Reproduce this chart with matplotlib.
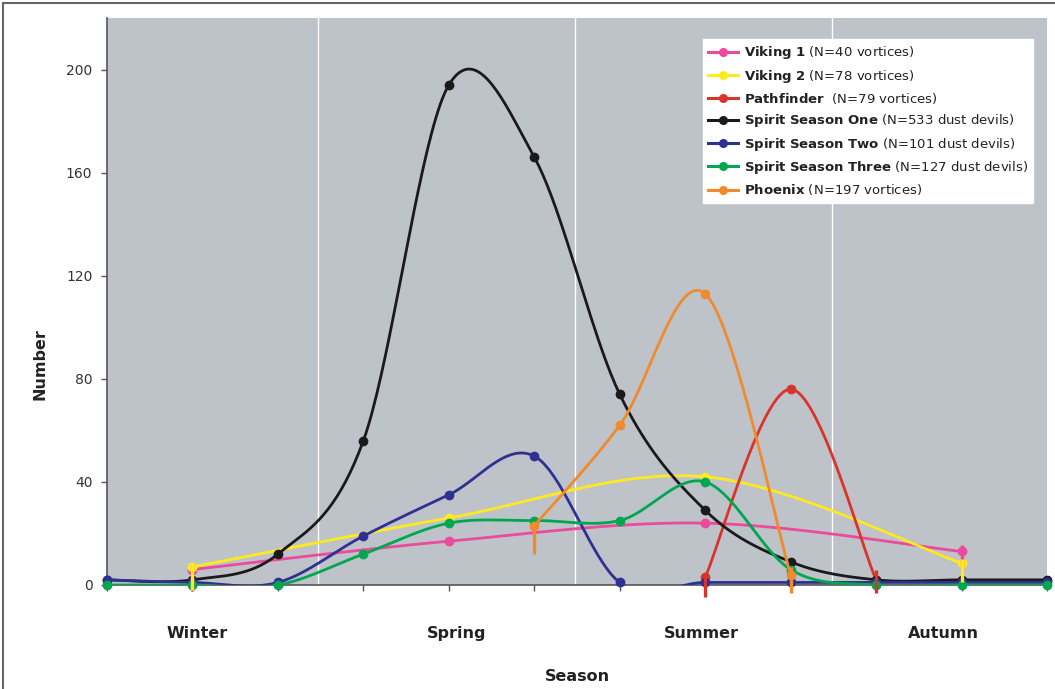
import numpy as np
import matplotlib
matplotlib.use("Agg")
import matplotlib.pyplot as plt
from matplotlib.lines import Line2D
from matplotlib.patches import Rectangle

plt.rcParams["font.family"] = ["DejaVu Sans"]
plt.rcParams["mathtext.fontset"] = "dejavusans"

# ---- data -------------------------------------------------------------
# twelve sampling slots spread across the Martian year
slots = np.arange(12)
sparse_slots = np.array([1, 4, 7, 10])

seasons = ["Winter", "Spring", "Summer", "Autumn"]
season_label_x = [1.05, 4.09, 6.96, 9.79]
season_bounds = [2.47, 5.48, 8.48]

viking1 = [6, 17, 24, 13]
viking2 = [7, 26, 42, 8.5]

pathfinder_x = [7, 8, 9]
pathfinder = [3, 76, 2]

spirit1 = [2, 2, 12, 56, 194, 166, 74, 29, 9, 2, 2, 2]
spirit2 = [2, 1, 1, 19, 35, 50, 1, 1, 1, 1, 1, 1]
spirit3 = [0, 0, 0, 12, 24, 25, 25, 40, 6, 0, 0, 0]

phoenix_x = [5, 6, 7, 8]
phoenix = [23, 62, 113, 4]

# vertical end strokes (low, high) at the first and last point of sparse series
viking1_ends = [(-2.3, 8), (5, 15.5)]
viking2_ends = [(-2, 8.5), (1, 10)]
pathfinder_ends = [(-4.5, 4.5), (-3, 6)]
phoenix_ends = [(12, 23), (-3, 7)]

labels = [
    r"$\mathbf{Viking\ 1}$ (N=40 vortices)",
    r"$\mathbf{Viking\ 2}$ (N=78 vortices)",
    r"$\mathbf{Pathfinder}$  (N=79 vortices)",
    r"$\mathbf{Spirit\ Season\ One}$ (N=533 dust devils)",
    r"$\mathbf{Spirit\ Season\ Two}$ (N=101 dust devils)",
    r"$\mathbf{Spirit\ Season\ Three}$ (N=127 dust devils)",
    r"$\mathbf{Phoenix}$ (N=197 vortices)",
]
colors = ["#EC4A9C", "#FFE91F", "#D9342B", "#1A1A1A", "#2E3192", "#00A650", "#F08A2C"]


def smooth(x, y, n=40):
    """Bezier smoothing through every point (Catmull-Rom style)."""
    p = np.column_stack([np.asarray(x, float), np.asarray(y, float)])
    ext = np.vstack([p[0], p, p[-1]])
    out = []
    t = np.linspace(0, 1, n)[:, None]
    for i in range(len(p) - 1):
        p0, p1, p2, p3 = ext[i], ext[i + 1], ext[i + 2], ext[i + 3]
        c1 = p1 + (p2 - p0) / 6.0
        c2 = p2 - (p3 - p1) / 6.0
        seg = ((1 - t) ** 3) * p1 + 3 * ((1 - t) ** 2) * t * c1 + 3 * (1 - t) * t ** 2 * c2 + t ** 3 * p2
        out.append(seg if i == 0 else seg[1:])
    s = np.vstack(out)
    return s[:, 0], s[:, 1]


fig = plt.figure(figsize=(10.55, 6.89), dpi=100)
fig.patch.set_facecolor("white")
ax = fig.add_axes([107 / 1055, 1 - 585 / 689, 940 / 1055, 567 / 689])
ax.set_facecolor("#BEC3C9")
ax.set_xlim(0, 11)
ax.set_ylim(0, 220)

for b in season_bounds:
    ax.axvline(b, color="white", lw=1.0, zorder=1)

series = [
    (sparse_slots, viking1, viking1_ends),
    (sparse_slots, viking2, viking2_ends),
    (pathfinder_x, pathfinder, pathfinder_ends),
    (slots, spirit1, None),
    (slots, spirit2, None),
    (slots, spirit3, None),
    (phoenix_x, phoenix, phoenix_ends),
]

for k, ((x, y, ends), c) in enumerate(zip(series, colors)):
    z = 3 + k
    sx, sy = smooth(x, y)
    ax.plot(sx, sy, color=c, lw=2.0, zorder=z, clip_on=True, solid_capstyle="round")
    ax.plot(x, y, "o", color=c, ms=6, zorder=z, clip_on=False)
    if ends is not None:
        ax.vlines([x[0], x[-1]], [ends[0][0], ends[1][0]], [ends[0][1], ends[1][1]],
                  colors=c, lw=2.4, zorder=12 + k, clip_on=False)

# axes styling
for side in ["top", "right"]:
    ax.spines[side].set_visible(False)
for side in ["left", "bottom"]:
    ax.spines[side].set_color("#555555")
    ax.spines[side].set_linewidth(1.2)
    ax.spines[side].set_zorder(2)

ax.set_yticks(np.arange(0, 201, 40))
ax.set_xticks(slots)
ax.set_xticklabels([])
ax.tick_params(axis="y", direction="out", length=4, width=1, color="#555555",
               labelsize=10, labelcolor="#333333", pad=6.5)
ax.tick_params(axis="x", direction="out", length=4, width=1, color="#555555")

xform = ax.get_xaxis_transform()
for name, xp in zip(seasons, season_label_x):
    ax.text(xp, -0.085, name, transform=xform, ha="center", va="center",
            fontsize=11.5, fontweight="bold", color="#222222")
ax.text(0.5, -0.162, "Season", transform=ax.transAxes, ha="center", va="center",
        fontsize=11.5, fontweight="bold", color="#222222")
ax.text(-0.071, 0.39, "Number", transform=ax.transAxes, ha="center", va="center",
        rotation=90, fontsize=11.5, fontweight="bold", color="#222222")

handles = [Line2D([0], [0], color=c, lw=2.2, marker="o", ms=5.5) for c in colors]
leg = ax.legend(handles, labels, loc="upper left", bbox_to_anchor=(0.634, 0.963),
                fontsize=9.5, frameon=True, fancybox=False, handlelength=2.25,
                handletextpad=0.45, labelspacing=0.48, borderpad=0.4, borderaxespad=0)
leg.get_frame().set_facecolor("white")
leg.get_frame().set_edgecolor("white")
leg.get_frame().set_alpha(1)
leg.set_zorder(20)
for t in leg.get_texts():
    t.set_color("#222222")

# outer frame around the figure
fig.patches.append(Rectangle((3 / 1055, -0.05), 1.2, 1.05 + (689 - 3) / 689 - 1.0,
                             transform=fig.transFigure, fill=False, ec="#666666", lw=1.5))

fig.savefig("out.png", dpi=100)
